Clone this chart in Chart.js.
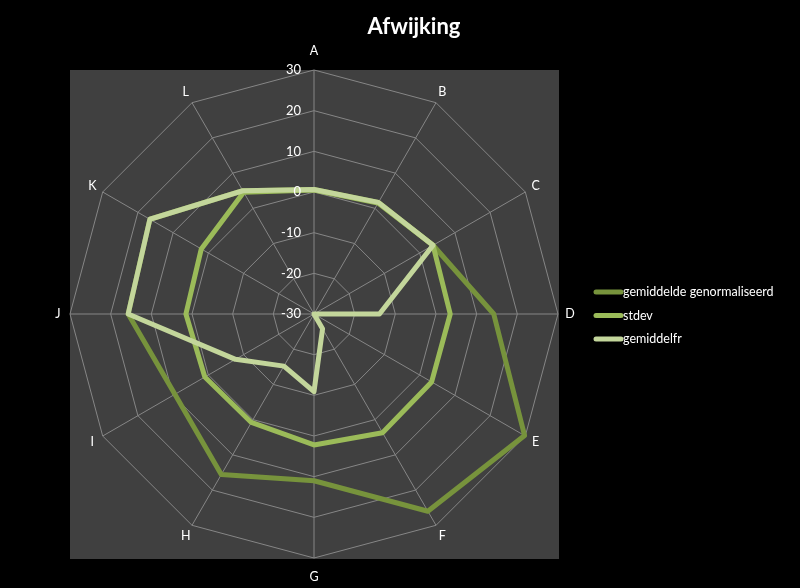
<!DOCTYPE html>
<html>
<head>
<meta charset="utf-8">
<script src="https://cdn.jsdelivr.net/npm/chart.js@4"></script>
<style>
  body { margin: 0; background: #000; }
  #wrap { width: 800px; height: 588px; }
</style>
</head>
<body>
<div id="wrap"><canvas id="myChart" width="800" height="588"></canvas></div>
<script>
// categories and series
var categories = ['A', 'B', 'C', 'D', 'E', 'F', 'G', 'H', 'I', 'J', 'K', 'L'];
var gemiddeldeGenormaliseerd = [0.6, 1.7, 3.8, 14.2, 29.8, 26, 11, 15.6, 9.5, 15.7, 16.6, 5];
var stdev = [0.5, 1.5, 3.8, 3.5, 3.4, 3.7, 2.2, 0.8, 1, 1.5, 2, 4.6];
var gemiddelfr = [0.6, 1.7, 3.8, -13.9, -30, -25.8, -10.9, -15.2, -7.7, 15.7, 16.6, 5];
var tickValues = [-30, -20, -10, 0, 10, 20, 30];

var font = "Lato, 'Open Sans', sans-serif";

// grey plot area, title, labels, ticks and legend
var excelLook = {
    id: 'excelLook',
    beforeDraw: function(chart) {
        var ctx = chart.ctx;
        ctx.save();
        ctx.fillStyle = '#000000';
        ctx.fillRect(0, 0, chart.width, chart.height);
        var a = chart.chartArea;
        ctx.fillStyle = '#404040';
        ctx.fillRect(a.left, a.top, a.right - a.left, a.bottom - a.top);
        ctx.restore();
    },
    afterDraw: function(chart) {
        var ctx = chart.ctx;
        var scale = chart.scales.r;
        ctx.save();
        // title
        ctx.fillStyle = '#ffffff';
        ctx.font = "bold 22px " + font;
        ctx.textAlign = 'center';
        ctx.textBaseline = 'middle';
        ctx.fillText('Afwijking', 414, 27);

        // point labels, a bit further out at top and bottom
        ctx.font = "12.5px " + font;
        categories.forEach(function(c, i) {
            var ang = i * Math.PI * 2 / categories.length;
            var dist = scale.drawingArea + 12 + 7 * Math.pow(Math.abs(Math.cos(ang)), 20);
            var p = scale.getPointPosition(i, dist);
            ctx.fillText(c, p.x, p.y);
        });

        // tick labels along the A axis
        ctx.textAlign = 'right';
        ctx.font = "13px " + font;
        tickValues.forEach(function(v) {
            var d = scale.getDistanceFromCenterForValue(v);
            ctx.fillText(String(v), scale.xCenter - 13, scale.yCenter - d);
        });

        // legend
        ctx.textAlign = 'left';
        ctx.font = "12.5px " + font;
        chart.data.datasets.forEach(function(ds, i) {
            var y = 292 + i * 23.5;
            ctx.strokeStyle = ds.borderColor;
            ctx.lineWidth = 5;
            ctx.lineCap = 'round';
            ctx.beginPath();
            ctx.moveTo(596, y);
            ctx.lineTo(621, y);
            ctx.stroke();
            ctx.fillStyle = '#ffffff';
            ctx.fillText(ds.label, 623, y);
        });
        ctx.restore();
    }
};

var ctx = document.getElementById('myChart').getContext('2d');
var myChart = new Chart(ctx, {
    type: 'radar',
    data: {
        labels: categories,
        datasets: [
            {
                label: 'gemiddelde genormaliseerd',
                data: gemiddeldeGenormaliseerd,
                borderColor: '#77933C',
                borderWidth: 5,
                fill: false,
                pointRadius: 0,
                borderJoinStyle: 'round',
                order: 3
            },
            {
                label: 'stdev',
                data: stdev,
                borderColor: '#9BBB59',
                borderWidth: 5,
                fill: false,
                pointRadius: 0,
                borderJoinStyle: 'round',
                order: 2
            },
            {
                label: 'gemiddelfr',
                data: gemiddelfr,
                borderColor: '#C3D69B',
                borderWidth: 5,
                fill: false,
                pointRadius: 0,
                borderJoinStyle: 'round',
                order: 1
            }
        ]
    },
    options: {
        responsive: false,
        animation: false,
        devicePixelRatio: 1,
        layout: { padding: { left: 70, top: 70, right: 241, bottom: 29 } },
        plugins: {
            legend: { display: false },
            title: { display: false },
            tooltip: { enabled: false }
        },
        elements: { line: { tension: 0 } },
        scales: {
            r: {
                min: -30,
                max: 30,
                ticks: { stepSize: 10, display: false },
                grid: { color: '#868686', lineWidth: 1, circular: false },
                angleLines: { color: '#868686', lineWidth: 1 },
                pointLabels: { display: false }
            }
        }
    },
    plugins: [excelLook]
});
</script>
</body>
</html>
